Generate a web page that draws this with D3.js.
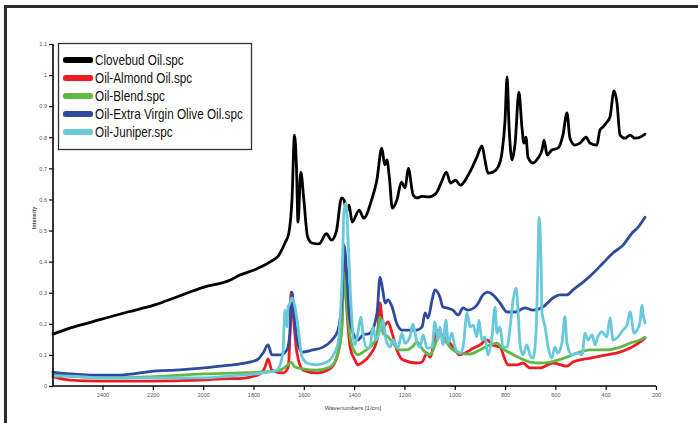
<!DOCTYPE html>
<html>
<head>
<meta charset="utf-8">
<script src="https://cdn.jsdelivr.net/npm/d3@7"></script>
<style>
  html, body { margin: 0; padding: 0; background: #fff; }
  svg { display: block; }
</style>
</head>
<body>
<div id="chart"></div>
<script>
// spectra: [wavenumber 1/cm, intensity]
var clovebud = [[2597,0.167],[2530,0.186],[2403,0.215],[2300,0.238],[2196,0.26],[2100,0.288],[1997,0.318],[1894,0.34],[1854,0.357],[1798,0.373],[1734,0.399],[1700,0.42],[1675,0.46],[1660,0.49],[1647,0.60],[1637,0.807],[1629,0.70],[1623,0.527],[1612,0.688],[1600,0.60],[1585,0.48],[1568,0.46],[1540,0.457],[1510,0.49],[1490,0.469],[1470,0.50],[1450,0.605],[1440,0.598],[1430,0.56],[1420,0.582],[1408,0.527],[1380,0.566],[1362,0.54],[1330,0.60],[1310,0.66],[1290,0.765],[1278,0.711],[1270,0.727],[1260,0.672],[1248,0.572],[1230,0.598],[1212,0.656],[1197,0.637],[1185,0.70],[1165,0.614],[1150,0.605],[1130,0.61],[1105,0.608],[1073,0.621],[1053,0.656],[1033,0.688],[1017,0.653],[997,0.662],[977,0.646],[960,0.66],[940,0.688],[912,0.736],[892,0.772],[880,0.727],[868,0.685],[848,0.688],[828,0.704],[812,0.752],[800,0.855],[792,0.994],[784,0.833],[772,0.727],[760,0.781],[745,0.945],[733,0.833],[725,0.781],[717,0.80],[709,0.736],[689,0.717],[669,0.733],[653,0.759],[645,0.791],[633,0.743],[614,0.759],[590,0.765],[570,0.807],[554,0.878],[542,0.797],[522,0.775],[502,0.781],[478,0.80],[462,0.781],[435,0.775],[423,0.823],[411,0.833],[395,0.849],[383,0.865],[367,0.949],[355,0.91],[343,0.807],[323,0.797],[303,0.807],[284,0.797],[264,0.80],[244,0.81]]

var almond = [[2597,0.03],[2530,0.019],[2411,0.016],[2212,0.016],[2013,0.019],[1894,0.024],[1854,0.024],[1774,0.039],[1754,0.061],[1742,0.087],[1727,0.051],[1683,0.042],[1663,0.058],[1655,0.17],[1651,0.302],[1643,0.235],[1627,0.106],[1603,0.051],[1548,0.042],[1496,0.055],[1464,0.106],[1448,0.212],[1440,0.389],[1428,0.235],[1416,0.125],[1397,0.084],[1385,0.068],[1365,0.077],[1337,0.10],[1309,0.148],[1297,0.267],[1285,0.19],[1265,0.206],[1249,0.17],[1230,0.116],[1206,0.084],[1150,0.074],[1130,0.077],[1110,0.106],[1098,0.093],[1071,0.18],[1051,0.164],[1019,0.138],[999,0.116],[979,0.10],[959,0.106],[930,0.12],[900,0.132],[872,0.148],[848,0.132],[820,0.125],[800,0.084],[788,0.068],[752,0.068],[729,0.074],[701,0.058],[661,0.058],[610,0.074],[554,0.064],[530,0.077],[462,0.09],[395,0.10],[343,0.109],[303,0.122],[264,0.141],[244,0.154]]

var blend = [[2597,0.035],[2530,0.032],[2411,0.026],[2212,0.029],[1997,0.039],[1854,0.042],[1762,0.045],[1695,0.051],[1663,0.068],[1651,0.077],[1635,0.061],[1603,0.055],[1548,0.051],[1496,0.061],[1464,0.106],[1448,0.19],[1440,0.363],[1428,0.254],[1416,0.158],[1397,0.109],[1385,0.10],[1365,0.109],[1337,0.125],[1309,0.158],[1297,0.222],[1285,0.17],[1265,0.158],[1245,0.138],[1218,0.116],[1190,0.116],[1170,0.125],[1150,0.141],[1126,0.116],[1098,0.10],[1071,0.148],[1059,0.164],[1031,0.138],[1019,0.125],[979,0.106],[939,0.103],[900,0.116],[860,0.132],[832,0.138],[812,0.122],[780,0.106],[741,0.09],[701,0.077],[661,0.074],[621,0.077],[554,0.093],[514,0.106],[462,0.116],[395,0.116],[343,0.125],[303,0.138],[264,0.148],[244,0.157]]

var evoo = [[2597,0.045],[2530,0.039],[2450,0.035],[2331,0.035],[2196,0.048],[2093,0.052],[1997,0.058],[1894,0.067],[1854,0.071],[1786,0.084],[1762,0.106],[1742,0.132],[1727,0.10],[1695,0.10],[1667,0.116],[1655,0.17],[1647,0.302],[1639,0.235],[1627,0.148],[1607,0.109],[1564,0.116],[1524,0.125],[1488,0.148],[1464,0.18],[1448,0.277],[1440,0.453],[1428,0.341],[1420,0.235],[1404,0.17],[1385,0.148],[1365,0.164],[1337,0.17],[1309,0.235],[1297,0.35],[1285,0.302],[1277,0.267],[1265,0.277],[1249,0.254],[1230,0.20],[1210,0.18],[1150,0.18],[1130,0.19],[1118,0.235],[1106,0.219],[1090,0.277],[1079,0.309],[1059,0.286],[1047,0.254],[1031,0.251],[1007,0.244],[987,0.228],[967,0.251],[947,0.244],[912,0.26],[888,0.293],[868,0.302],[848,0.293],[820,0.267],[792,0.238],[760,0.238],[721,0.251],[689,0.244],[649,0.254],[610,0.283],[582,0.293],[554,0.293],[530,0.309],[490,0.334],[450,0.363],[411,0.395],[371,0.428],[331,0.453],[295,0.492],[271,0.511],[244,0.543]]

var juniper = [[2597,0.032],[2530,0.032],[2411,0.026],[2212,0.026],[1997,0.026],[1894,0.032],[1762,0.042],[1707,0.051],[1683,0.106],[1675,0.244],[1667,0.19],[1663,0.251],[1655,0.267],[1647,0.283],[1635,0.254],[1623,0.19],[1607,0.093],[1588,0.074],[1548,0.068],[1508,0.077],[1468,0.125],[1448,0.341],[1440,0.566],[1432,0.588],[1424,0.469],[1412,0.254],[1397,0.132],[1385,0.17],[1373,0.222],[1365,0.17],[1349,0.122],[1337,0.125],[1325,0.19],[1313,0.148],[1297,0.18],[1285,0.212],[1273,0.148],[1257,0.125],[1245,0.148],[1226,0.122],[1210,0.17],[1198,0.138],[1178,0.158],[1166,0.20],[1150,0.138],[1138,0.125],[1126,0.164],[1110,0.122],[1090,0.125],[1079,0.206],[1067,0.148],[1059,0.19],[1047,0.132],[1035,0.212],[1027,0.138],[1011,0.17],[999,0.125],[979,0.106],[967,0.125],[951,0.235],[939,0.19],[927,0.196],[912,0.158],[904,0.212],[892,0.148],[880,0.158],[868,0.10],[852,0.158],[840,0.254],[832,0.17],[820,0.19],[808,0.125],[792,0.125],[780,0.19],[768,0.277],[756,0.315],[748,0.235],[741,0.138],[729,0.10],[713,0.132],[701,0.10],[689,0.09],[677,0.17],[669,0.405],[665,0.543],[657,0.405],[653,0.235],[641,0.19],[629,0.125],[614,0.09],[602,0.125],[590,0.106],[574,0.138],[562,0.222],[554,0.138],[534,0.10],[514,0.106],[494,0.10],[482,0.17],[470,0.148],[454,0.164],[442,0.132],[431,0.158],[415,0.174],[395,0.158],[383,0.219],[371,0.148],[351,0.158],[331,0.18],[315,0.196],[303,0.238],[287,0.17],[275,0.18],[264,0.203],[256,0.26],[252,0.235],[244,0.203]]

var seriesNames = ["Clovebud Oil.spc", "Oil-Almond Oil.spc", "Oil-Blend.spc", "Oil-Extra Virgin Olive Oil.spc", "Oil-Juniper.spc"]
var seriesColors = ["#000000", "#ed1c24", "#62b846", "#2f4b9f", "#68c9da"]
var yTicks = [0, 0.1, 0.2, 0.3, 0.4, 0.5, 0.6, 0.7, 0.8, 0.9, 1, 1.1]
var xTicks = [2400, 2200, 2000, 1800, 1600, 1400, 1200, 1000, 800, 600, 400, 200]

var allSeries = [clovebud, almond, blend, evoo, juniper]

var width = 698, height = 423
var narrow = "Liberation Sans Narrow, Arial Narrow, Liberation Sans, Arial, sans-serif"

var svg = d3.select("#chart").append("svg")
  .attr("width", width)
  .attr("height", height)

// frame (left + top rule)
svg.append("line")
  .attr("x1", 5.5).attr("x2", 5.5)
  .attr("y1", 5.5).attr("y2", height)
  .attr("stroke", "#2b2b2b").attr("stroke-width", 3)
svg.append("line")
  .attr("x1", 4).attr("x2", width)
  .attr("y1", 6.5).attr("y2", 6.5)
  .attr("stroke", "#2b2b2b").attr("stroke-width", 3)

var x = d3.scaleLinear()
  .domain([2597, 200])
  .range([53, 656])

var y = d3.scaleLinear()
  .domain([0, 1.1])
  .range([386, 44])

var line = d3.line()
  .x(d => x(d[0]))
  .y(d => y(d[1]))
  .curve(d3.curveMonotoneX)

svg.selectAll("path.spec")
  .data(allSeries)
  .enter()
  .append("path")
  .attr("class", "spec")
  .attr("d", d => line(d))
  .attr("fill", "none")
  .attr("stroke", (d, i) => seriesColors[i])
  .attr("stroke-width", 2.8)
  .attr("stroke-linejoin", "round")
  .attr("stroke-linecap", "round")

// axes
var yAxis = svg.append("g")
  .attr("transform", "translate(53,0)")
  .call(d3.axisLeft(y).tickValues(yTicks).tickSize(4).tickPadding(2).tickFormat(d3.format("~g")))
var xAxis = svg.append("g")
  .attr("transform", "translate(0,386)")
  .call(d3.axisBottom(x).tickValues(xTicks).tickSize(4).tickPadding(3).tickFormat(d3.format("d")))

svg.selectAll(".domain")
  .attr("stroke", "#000")
  .attr("stroke-width", 1.6)
svg.selectAll(".tick line")
  .attr("stroke", "#000")
  .attr("stroke-width", 1.2)
svg.selectAll(".tick text")
  .attr("font-family", narrow)
  .attr("font-size", 5.5)
  .attr("fill", "#555")

// domain without the outer tick stubs
yAxis.select(".domain").attr("d", "M0," + y(1.1) + "V" + y(0))
xAxis.select(".domain").attr("d", "M" + x(2597) + ",0H" + x(200))

svg.append("text")
  .text("Wavenumbers [1/cm]")
  .attr("x", 353)
  .attr("y", 410)
  .attr("font-family", narrow)
  .attr("font-size", 6)
  .attr("fill", "#444")
  .attr("text-anchor", "middle")

svg.append("text")
  .text("Intensity")
  .attr("transform", "translate(36,218) rotate(-90)")
  .attr("font-family", narrow)
  .attr("font-size", 5.5)
  .attr("font-weight", "bold")
  .attr("fill", "#444")
  .attr("text-anchor", "middle")

// legend
var legend = svg.append("g")

legend.append("rect")
  .attr("x", 58.5)
  .attr("y", 43.5)
  .attr("width", 193)
  .attr("height", 106)
  .attr("fill", "#fff")
  .attr("stroke", "#333")
  .attr("stroke-width", 1.3)

var rowY = d3.scalePoint()
  .domain(seriesNames)
  .range([60, 132])

legend.selectAll("rect.swatch")
  .data(seriesNames)
  .enter()
  .append("rect")
  .attr("class", "swatch")
  .attr("x", 63)
  .attr("y", d => rowY(d) - 3)
  .attr("width", 30)
  .attr("height", 6)
  .attr("rx", 2.5)
  .attr("fill", (d, i) => seriesColors[i])

// condensed look: squeeze the labels horizontally
legend.selectAll("text.label")
  .data(seriesNames)
  .enter()
  .append("text")
  .attr("class", "label")
  .text(d => d)
  .attr("transform", d => "translate(95," + (rowY(d) + 5) + ") scale(0.84,1)")
  .attr("font-family", narrow)
  .attr("font-size", 14)
  .attr("fill", "#111")
</script>
</body>
</html>
